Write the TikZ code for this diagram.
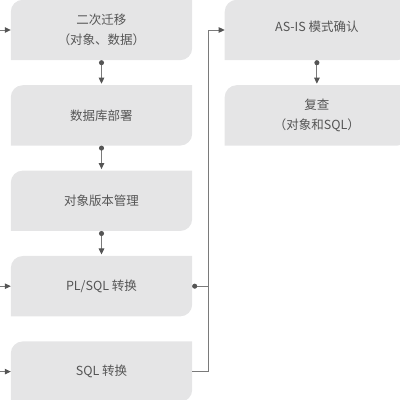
\documentclass[tikz,border=0pt]{standalone}
\usepackage{fontspec}
\usepackage{xcolor}
\usepackage{tikz}
\usetikzlibrary{arrows.meta,backgrounds,calc,positioning}
\newfontfamily\cjk{Noto Sans CJK SC}
\definecolor{boxgray}{HTML}{E5E5E6}
\definecolor{inkgray}{HTML}{555555}
\definecolor{wiregray}{HTML}{7A7A7A}

\begin{document}
\begin{tikzpicture}[
  stage/.style={minimum width=181pt,minimum height=60pt,inner sep=0pt,
                align=center,text=inkgray,
                font=\cjk\fontsize{12.5}{20}\selectfont},
  wire/.style={wiregray,line width=0.9pt},
  arr/.style={wire,{Circle[length=5pt,color=inkgray]}-{Triangle[length=6pt,width=5.5pt,color=inkgray]},
              shorten >=1.5pt},
  feed/.style={wire,-{Triangle[length=6pt,width=5.5pt,color=inkgray]}},
  knob/.style={wire,{Circle[length=5pt,color=inkgray]}-}
]
\useasboundingbox (0,0) rectangle (400pt,400pt);

% left column
\node[stage] (second) at (101.5pt,370pt) {二次迁移\\（对象、数据）};
\node[stage,below=25pt of second] (deploy) {数据库部署};
\node[stage,below=25pt of deploy] (version) {对象版本管理};
\node[stage,below=25pt of version] (plsql) {PL/SQL 转换};
\node[stage,below=25pt of plsql] (sqlconv) {SQL 转换};

% right column
\node[stage,minimum width=184pt,right=32.5pt of second] (asis) {\raisebox{8pt}{AS-IS 模式确认}};
\node[stage,minimum width=184pt,below=25pt of asis] (review) {复查\\（对象和SQL）};

% leaf shaped boxes
\begin{scope}[on background layer]
\foreach \n in {second,deploy,version,plsql,sqlconv,asis,review}
  \fill[boxgray] (\n.south west) -- ([yshift=-12pt]\n.north west)
    arc (180:90:12pt) -- (\n.north east) -- ([yshift=12pt]\n.south east)
    arc (0:-90:12pt) -- cycle;
\end{scope}

\coordinate[left=11pt of second.west] (in1);
\coordinate[left=11pt of plsql.west] (in2);
\coordinate[left=11pt of sqlconv.west] (in3);
\coordinate (bus) at ($(second.east)!0.5!(asis.west)$);

\draw[feed] (in1) -- (second.west);
\draw[feed] (in2) -- (plsql.west);
\draw[feed] (in3) -- (sqlconv.west);

\draw[arr] (second) -- (deploy);
\draw[arr] (deploy) -- (version);
\draw[arr] (version) -- (plsql);
\draw[arr] (asis) -- (review);

\draw[knob] (plsql.east) -- (plsql.east -| bus);
\draw[knob,-{Triangle[length=6pt,width=5.5pt,color=inkgray]}] (sqlconv.east) -| (bus) -- (asis.west);
\end{tikzpicture}
\end{document}
